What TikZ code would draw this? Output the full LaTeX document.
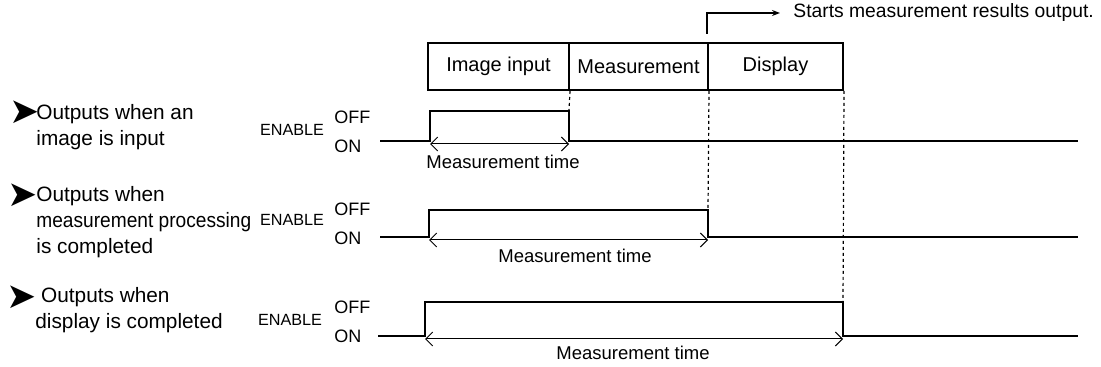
\documentclass[tikz,border=0pt]{standalone}
\usepackage{fontspec}
\setmainfont{Liberation Sans}
\newfontfamily\dejavu{DejaVu Sans}
\usepackage{tikz}
\usetikzlibrary{arrows.meta,positioning,calc}

\begin{document}
\begin{tikzpicture}[x=0.5pt, y=-0.5pt,
    phase/.style={rectangle, draw, line width=1pt, minimum height=23.5pt, inner sep=0pt, font=\fontsize{10}{12}\selectfont},
    caption/.style={anchor=west, align=left, inner sep=0pt, font=\fontsize{10.4}{13}\selectfont},
    bullet/.style={anchor=west, inner sep=0pt, font=\dejavu\fontsize{18}{18}\selectfont},
    enab/.style={inner sep=0pt, font=\fontsize{8.1}{10}\selectfont},
    level/.style={anchor=west, inner sep=0pt, font=\fontsize{9}{10}\selectfont},
    tlabel/.style={inner sep=0pt, font=\fontsize{9.25}{11}\selectfont},
    sig/.style={line width=1pt},
    guide/.style={line width=0.6pt, dash pattern=on 1.5pt off 1.5pt},
    span/.style={{Straight Barb[length=3.5pt]}-{Straight Barb[length=3.5pt]}, line width=0.5pt}
]
\useasboundingbox (0,0) rectangle (1101,367);

% processing phases
\node[phase, minimum width=70.5pt] (im) at (498.5,66.5) {Image input};
\node[phase, minimum width=69.5pt] (ms) at (638.5,66.5) {Measurement};
\node[phase, minimum width=67.5pt] (dsp) at (775.5,66.5) {Display};
\node[anchor=west, inner sep=0pt, font=\fontsize{9.65}{11}\selectfont] (st) at (793,13) {Starts measurement results output.};
\draw[-{Stealth[length=4pt,width=3pt]}, line width=0.8pt] ([yshift=4pt]dsp.north west) |- ([xshift=-6.5pt]st.west);

% row labels
\node[bullet] (b1) at (9,112) {➤};
\node[caption] (c1) at (36,127) {Outputs when an\\image is input};
\node[bullet] (b2) at (7,195) {➤};
\node[caption] (c2) at (36,222) {Outputs when\\\scalebox{0.92}[1]{measurement processing}\\is completed};
\node[bullet] (b3) at (6,297) {➤};
\node[caption] (c3) at (35,310.5) {\ Outputs when\\display is completed};

\node[enab] (e1) at (292,130) {ENABLE};
\node[level] (off1) at (334,117) {OFF};
\node[level] (on1) at (334,146) {ON};
\node[enab] (e2) at (292,220) {ENABLE};
\node[level] (off2) at (334,209) {OFF};
\node[level] (on2) at (334,238) {ON};
\node[enab] (e3) at (290,320) {ENABLE};
\node[level] (off3) at (334,307) {OFF};
\node[level] (on3) at (334,336) {ON};

% signals
\coordinate (r1) at (430,141); \coordinate (t1) at (569,111); \coordinate (f1) at (569,141);
\coordinate (r2) at (429,237); \coordinate (t2) at (708,210); \coordinate (f2) at (708,237);
\coordinate (r3) at (425,336); \coordinate (t3) at (843,302); \coordinate (f3) at (843,336);
\draw[sig] (380,141) -- (r1) |- (t1) -- (f1) -- (1078,141);
\draw[sig] (380,237) -- (r2) |- (t2) -- (f2) -- (1078,237);
\draw[sig] (378,336) -- (r3) |- (t3) -- (f3) -- (1078,336);

\draw[guide] (im.south east) -- (t1);
\draw[guide] (ms.south east) -- (t2);
\draw[guide] (dsp.south east) -- (t3);

% measurement time
\draw[span] ([yshift=-1.5pt]r1) -- ([yshift=-1.5pt]f1);
\node[tlabel] (m1) at (503,162) {Measurement time};
\draw[span] ([yshift=-1.5pt]r2) -- ([yshift=-1.5pt]f2);
\node[tlabel] (m2) at (575,256) {Measurement time};
\draw[span] ([yshift=-1.5pt]r3) -- ([yshift=-1.5pt]f3);
\node[tlabel] (m3) at (633,353) {Measurement time};
\end{tikzpicture}
\end{document}
